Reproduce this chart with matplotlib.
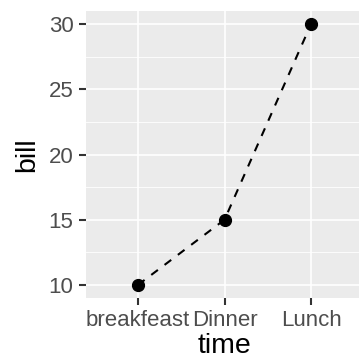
import numpy as np
import matplotlib.pyplot as plt
from matplotlib.ticker import FixedLocator

# data
times = ["breakfeast", "Dinner", "Lunch"]
bill = [10, 15, 30]

plt.rcParams["font.family"] = ["Liberation Sans", "DejaVu Sans"]

fig = plt.figure(figsize=(3.59, 3.62), dpi=100)
ax = fig.add_axes([86 / 359, 64 / 362, 277 / 359, 287 / 362])

xpos = np.arange(1, len(times) + 1)
ax.set_facecolor("#EBEBEB")
ax.plot(xpos, bill, color="black", lw=1.5, dashes=(4, 4), zorder=3)
ax.plot(xpos, bill, "o", color="black", ms=8.5, zorder=4)

ax.set_xlim(0.4, 3.6)
ax.set_ylim(9, 31)
ax.set_xticks(xpos)
ax.set_xticklabels(times)
ax.set_yticks([10, 15, 20, 25, 30])
ax.yaxis.set_minor_locator(FixedLocator([12.5, 17.5, 22.5, 27.5]))

ax.grid(which="major", color="white", lw=1.2)
ax.grid(which="minor", axis="y", color="white", lw=0.6)
ax.set_axisbelow(True)
for s in ax.spines.values():
    s.set_visible(False)

ax.tick_params(which="major", length=5, width=1.5, color="#333333",
               labelcolor="#4D4D4D", labelsize=16, pad=4)
ax.tick_params(which="minor", length=0)

ax.set_xlabel("time", fontsize=20.5, labelpad=1)
ax.set_ylabel("bill", fontsize=20.5, labelpad=6)

fig.savefig("out.png", dpi=100)
